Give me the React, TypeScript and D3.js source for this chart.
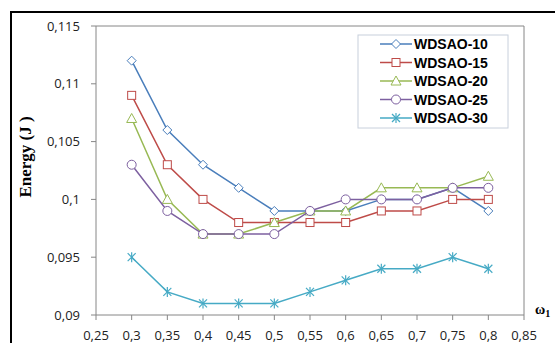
import React from 'react';
import * as d3 from 'd3';

const omegas = [0.3, 0.35, 0.4, 0.45, 0.5, 0.55, 0.6, 0.65, 0.7, 0.75, 0.8];
const seriesNames = ['WDSAO-10', 'WDSAO-15', 'WDSAO-20', 'WDSAO-25', 'WDSAO-30'];
const wdsao10 = [0.112, 0.106, 0.103, 0.101, 0.099, 0.099, 0.099, 0.1, 0.1, 0.101, 0.099];
const wdsao15 = [0.109, 0.103, 0.1, 0.098, 0.098, 0.098, 0.098, 0.099, 0.099, 0.1, 0.1];
const wdsao20 = [0.107, 0.1, 0.097, 0.097, 0.098, 0.099, 0.099, 0.101, 0.101, 0.101, 0.102];
const wdsao25 = [0.103, 0.099, 0.097, 0.097, 0.097, 0.099, 0.1, 0.1, 0.1, 0.101, 0.101];
const wdsao30 = [0.095, 0.092, 0.091, 0.091, 0.091, 0.092, 0.093, 0.094, 0.094, 0.095, 0.094];
const xTicks = [0.25, 0.3, 0.35, 0.4, 0.45, 0.5, 0.55, 0.6, 0.65, 0.7, 0.75, 0.8, 0.85];
const yTicks = [0.09, 0.095, 0.1, 0.105, 0.11, 0.115];

const colors = ['#4A7EBB', '#BE4B48', '#98B954', '#7D60A0', '#46AAC5'];
const shapes = ['diamond', 'square', 'triangle', 'circle', 'star'];

const fmt = (v: number) => String(+v.toFixed(3)).replace('.', ',');

function Marker({ shape, x, y, color }: { shape: string; x: number; y: number; color: string }) {
  const common = { fill: 'white', stroke: color, strokeWidth: 1 };
  if (shape === 'diamond') {
    return <path d={`M${x},${y - 4.5}L${x + 4.5},${y}L${x},${y + 4.5}L${x - 4.5},${y}Z`} {...common} />;
  }
  if (shape === 'square') {
    return <rect x={x - 4} y={y - 4} width={8} height={8} {...common} />;
  }
  if (shape === 'triangle') {
    return <path d={`M${x},${y - 5}L${x + 5},${y + 4}L${x - 5},${y + 4}Z`} {...common} />;
  }
  if (shape === 'circle') {
    return <circle cx={x} cy={y} r={4.5} {...common} />;
  }
  return (
    <g stroke={color} strokeWidth={1.2}>
      <line x1={x - 4} y1={y - 4} x2={x + 4} y2={y + 4} />
      <line x1={x - 4} y1={y + 4} x2={x + 4} y2={y - 4} />
      <line x1={x} y1={y - 5} x2={x} y2={y + 5} />
    </g>
  );
}

export default function App() {
  const left = 96, right = 524, top = 26, bottom = 315;
  const x = d3.scaleLinear().domain([0.25, 0.85]).range([left, right]);
  const y = d3.scaleLinear().domain([0.09, 0.115]).range([bottom, top]);
  const allSeries = [wdsao10, wdsao15, wdsao20, wdsao25, wdsao30];
  const line = d3.line<number>().x((_, i) => x(omegas[i])).y((d) => y(d));
  const axisColor = '#868686';
  const tickFont = '"Open Sans", sans-serif';

  return (
    <svg width={555} height={343} style={{ position: 'absolute', left: 0, top: 0, background: 'white' }}>
      <rect x={11} y={12} width={700} height={500} fill="white" stroke="black" strokeWidth={2} />
      {/* plot frame */}
      <line x1={left} y1={top} x2={right} y2={top} stroke={axisColor} />
      <line x1={right} y1={top} x2={right} y2={bottom} stroke={axisColor} />
      <line x1={left} y1={top} x2={left} y2={bottom} stroke={axisColor} />
      <line x1={left} y1={bottom} x2={right} y2={bottom} stroke={axisColor} />
      {yTicks.map((t) => (
        <g key={t}>
          <line x1={left - 5} x2={left} y1={y(t)} y2={y(t)} stroke={axisColor} />
          <text x={left - 16} y={y(t) + 4.5} textAnchor="end" fontSize={13} fontFamily={tickFont} fill="#222">
            {fmt(t)}
          </text>
        </g>
      ))}
      {xTicks.map((t) => (
        <g key={t}>
          <line x1={x(t)} x2={x(t)} y1={bottom} y2={bottom + 5} stroke={axisColor} />
          <text x={x(t)} y={340} textAnchor="middle" fontSize={13} fontFamily={tickFont} fill="#222">
            {fmt(t)}
          </text>
        </g>
      ))}
      <text
        transform="translate(31,157) rotate(-90)"
        textAnchor="middle"
        fontSize={17}
        fontWeight="bold"
        fontFamily='"Liberation Serif", "Times New Roman", serif'
      >
        Energy (J )
      </text>
      <text x={535} y={314} fontSize={14} fontWeight="bold" fontFamily='"Liberation Serif", serif'>
        ω<tspan fontSize={10} dy={3}>1</tspan>
      </text>
      {allSeries.map((s, k) => (
        <g key={seriesNames[k]}>
          <path d={line(s) || ''} fill="none" stroke={colors[k]} strokeWidth={1.5} />
          {s.map((v, i) => (
            <Marker key={i} shape={shapes[k]} x={x(omegas[i])} y={y(v)} color={colors[k]} />
          ))}
        </g>
      ))}
      {/* legend */}
      <rect x={358} y={35} width={150} height={93} fill="white" stroke="#c8d0dc" />
      {seriesNames.map((n, k) => {
        const ly = 44 + k * 18.5;
        return (
          <g key={n}>
            <line x1={380} x2={412} y1={ly} y2={ly} stroke={colors[k]} strokeWidth={1.5} />
            <Marker shape={shapes[k]} x={396} y={ly} color={colors[k]} />
            <text x={414} y={ly + 5} fontSize={14} fontWeight="bold" fontFamily='"Liberation Sans", Arial, sans-serif'>
              {n}
            </text>
          </g>
        );
      })}
    </svg>
  );
}
